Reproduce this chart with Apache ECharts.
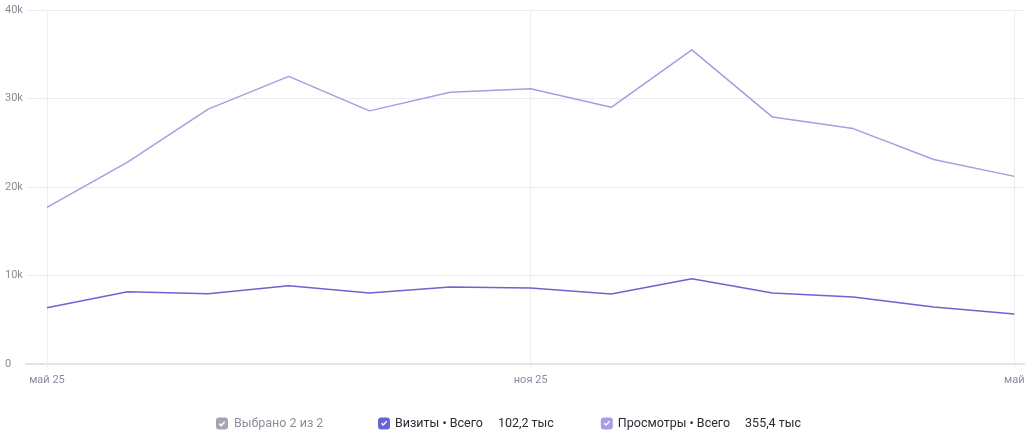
<!DOCTYPE html>
<html>
<head>
<meta charset="utf-8">
<script src="https://cdn.jsdelivr.net/npm/echarts@6/dist/echarts.min.js"></script>
<style>
	html, body { margin: 0; padding: 0; background: #fff; }
	#chart { width: 1033px; height: 434px; }
</style>
</head>
<body>
<div id="chart"></div>
<script>
// month index -> label (only 3 are shown on the axis)
const monthLabels = ['май 25', 'июн', 'июл', 'авг', 'сен', 'окт', 'ноя 25', 'дек', 'янв', 'фев', 'мар', 'апр', 'май'];
const labelTicks = [0, 6, 12];
const visits = [6360, 8170, 7940, 8850, 8020, 8700, 8590, 7910, 9640, 8020, 7570, 6440, 5650];
const views = [17700, 22800, 28800, 32500, 28600, 30700, 31100, 29000, 35500, 27900, 26600, 23100, 21200];
const seriesNames = ['Визиты • Всего', 'Просмотры • Всего'];
const seriesTotals = ['102,2 тыс', '355,4 тыс'];
const yTicks = [0, 10000, 20000, 30000, 40000];

const FONT = 'Roboto, "Noto Sans", sans-serif';
const GRID_COLOR = '#ededf1';
const LABEL_COLOR = '#878c99';

// check box icon: rounded square with a check cut out of it
const CHECK_ICON = 'path://M3,0H9Q12,0 12,3V9Q12,12 9,12H3Q0,12 0,9V3Q0,0 3,0Z' +
	'M3,6.2L5.2,8.4L9.2,4.2L8.2,3.3L5.2,6.4L4,5.2Z';

let chart = echarts.init(document.getElementById('chart'), null, {renderer: 'canvas'});

let toPairs = arr => arr.map((v, i) => [i, v]);

let option = {
	animation: false,
	textStyle: {fontFamily: FONT},
	grid: {left: 26, right: 9, top: 10, bottom: 70},
	xAxis: {
		type: 'value',
		min: -0.26,
		max: 12.12,
		axisLine: {show: true, lineStyle: {color: '#e3e3e8', width: 2}},
		axisTick: {show: true, customValues: labelTicks, length: 3, lineStyle: {color: GRID_COLOR}},
		axisLabel: {
			customValues: labelTicks,
			color: LABEL_COLOR,
			fontSize: 11,
			margin: 11,
			formatter: v => monthLabels[Math.round(v)]
		},
		splitLine: {show: true, lineStyle: {color: GRID_COLOR}}
	},
	yAxis: {
		type: 'value',
		min: yTicks[0],
		max: yTicks[yTicks.length - 1],
		interval: 10000,
		axisLine: {show: false},
		axisTick: {show: false},
		axisLabel: {
			color: LABEL_COLOR,
			fontSize: 11,
			align: 'left',
			margin: 21,
			formatter: v => v === 0 ? '0' : (v / 1000) + 'k'
		},
		splitLine: {lineStyle: {color: GRID_COLOR}}
	},
	legend: {
		left: 378,
		top: 417,
		padding: 0,
		itemWidth: 12,
		itemHeight: 12,
		itemGap: 47,
		icon: CHECK_ICON,
		selectedMode: false,
		textStyle: {
			fontFamily: FONT,
			rich: {
				n: {fontSize: 12.5, color: '#2a2a33', fontFamily: FONT},
				v: {fontSize: 12.5, color: '#2a2a33', fontFamily: FONT, padding: [0, 0, 0, 15]}
			}
		},
		formatter: name => `{n|${name}}{v|${seriesTotals[seriesNames.indexOf(name)]}}`,
		data: seriesNames
	},
	graphic: [{
		type: 'group',
		left: 216,
		top: 417,
		children: [{
			type: 'rect',
			shape: {x: 0, y: 0, width: 12, height: 12, r: 3},
			style: {fill: '#a2a6b0'}
		}, {
			type: 'polyline',
			shape: {points: [[3.3, 6.1], [5.2, 8], [8.8, 4.2]]},
			style: {stroke: '#fff', lineWidth: 1.6, fill: null}
		}, {
			type: 'text',
			x: 18,
			y: -0.5,
			style: {text: 'Выбрано 2 из 2', fill: '#8a8f9a', font: '12.5px ' + FONT}
		}]
	}],
	series: [{
		name: seriesNames[0],
		type: 'line',
		data: toPairs(visits),
		symbol: 'none',
		color: '#6c64d4',
		lineStyle: {width: 1.5, color: '#6c64d0'}
	}, {
		name: seriesNames[1],
		type: 'line',
		data: toPairs(views),
		symbol: 'none',
		color: '#a69eea',
		lineStyle: {width: 1.5, color: '#a59ee0'}
	}]
};
chart.setOption(option);
</script>
</body>
</html>
